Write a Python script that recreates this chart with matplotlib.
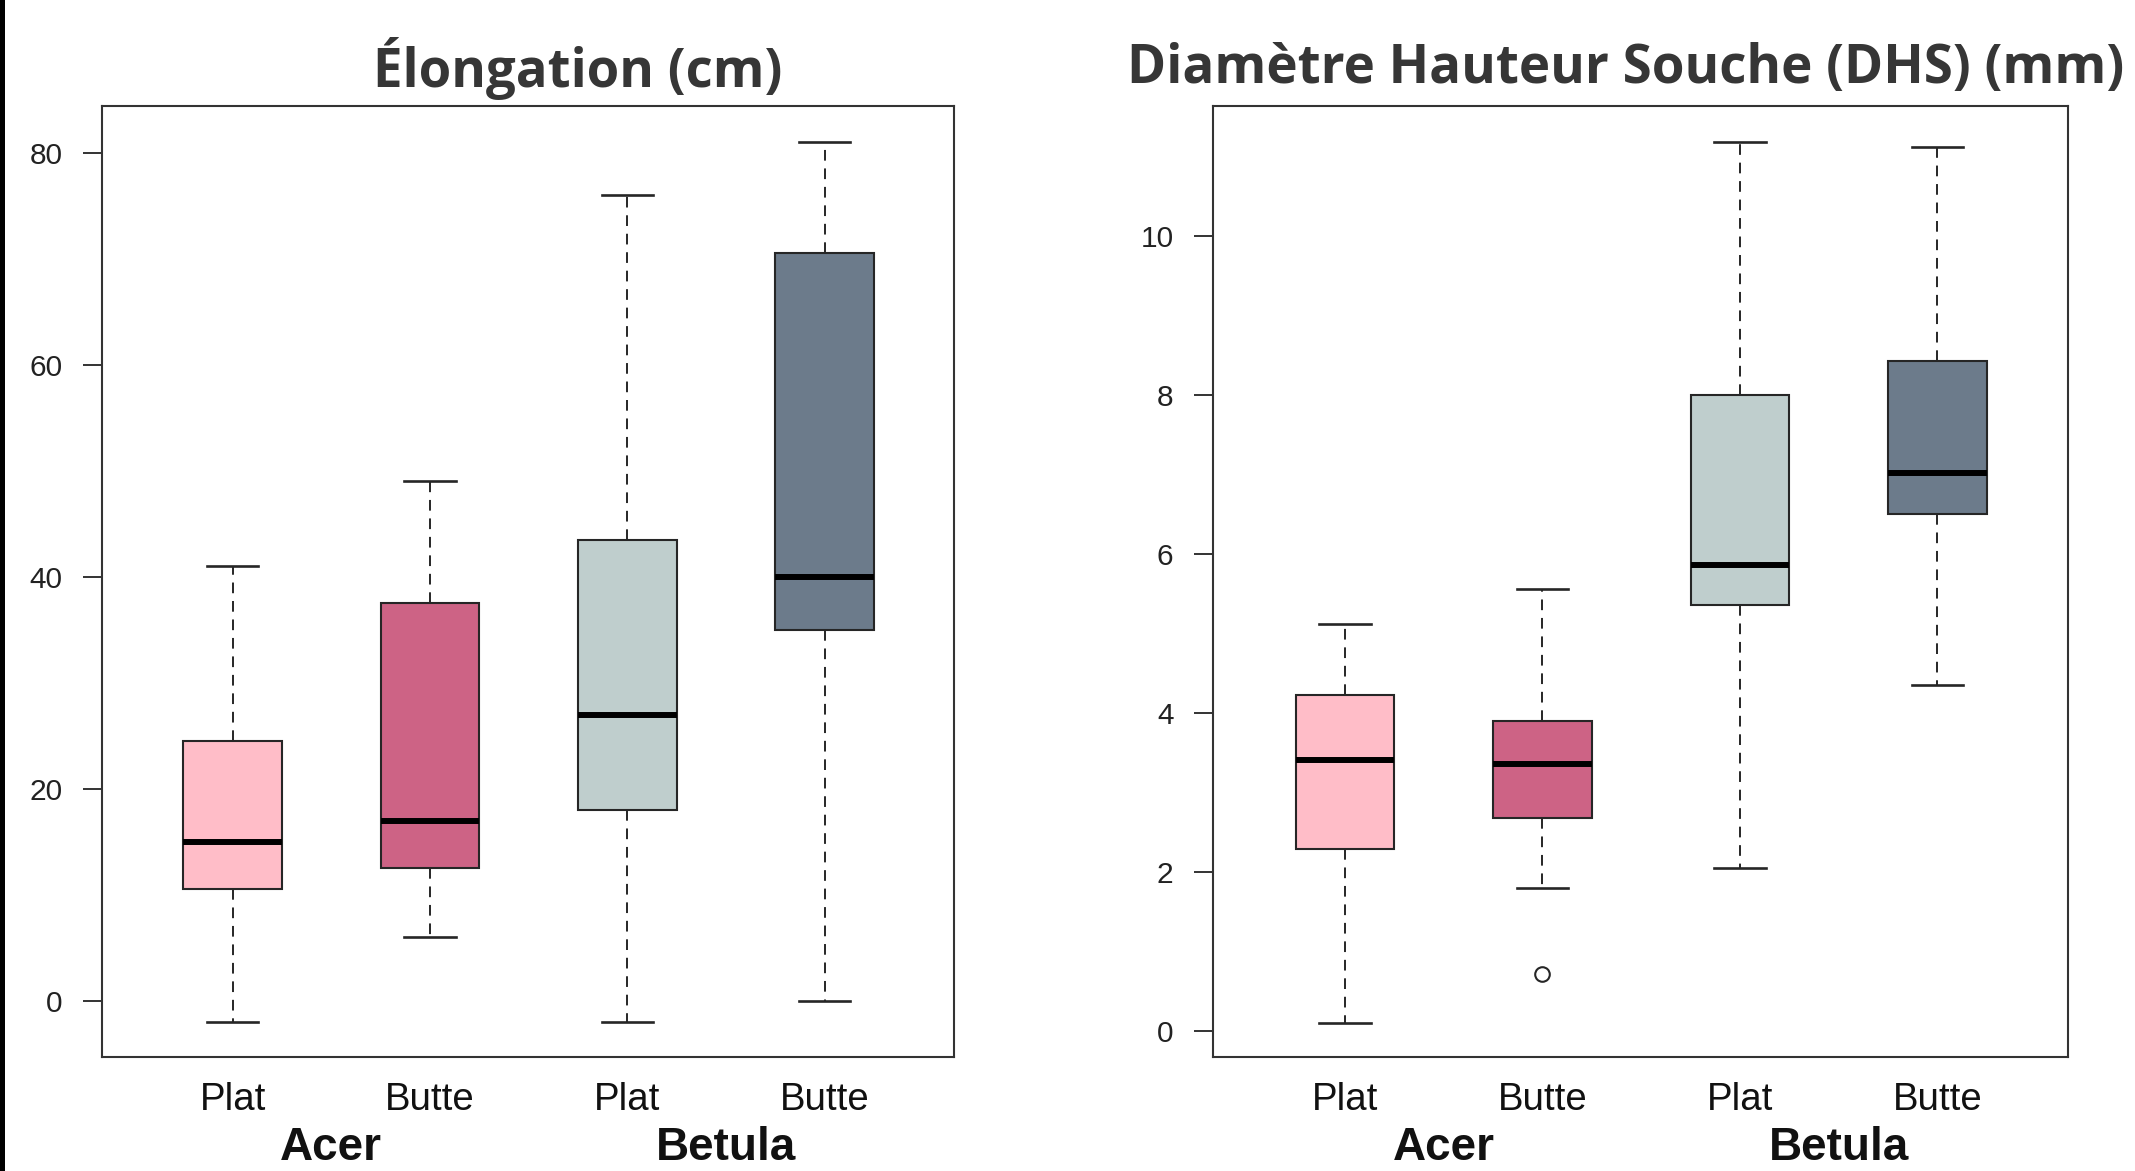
import matplotlib
matplotlib.use("Agg")
import matplotlib.pyplot as plt
import matplotlib.transforms as mtransforms
from matplotlib.patches import Rectangle

# ---------------- data ----------------
groups = ["Acer", "Betula"]
tick_labels = ["Plat", "Butte", "Plat", "Butte"]
box_colors = ["#FFBDC8", "#CD6385", "#BFCECD", "#6C7B8B"]

# Élongation (cm)
elong_low = [-2.0, 6.0, -2.0, 0.0]
elong_q1 = [10.5, 12.5, 18.0, 35.0]
elong_med = [15.0, 17.0, 27.0, 40.0]
elong_q3 = [24.5, 37.5, 43.5, 70.5]
elong_high = [41.0, 49.0, 76.0, 81.0]
elong_out = [[], [], [], []]
elong_yticks = [0, 20, 40, 60, 80]

# Diamètre Hauteur Souche (mm)
dhs_low = [0.1, 1.8, 2.05, 4.35]
dhs_q1 = [2.28, 2.67, 5.36, 6.5]
dhs_med = [3.4, 3.35, 5.86, 7.02]
dhs_q3 = [4.22, 3.9, 8.0, 8.42]
dhs_high = [5.12, 5.55, 11.18, 11.12]
dhs_out = [[], [0.72], [], []]
dhs_yticks = [0, 2, 4, 6, 8, 10]

titles = ["Élongation (cm)", "Diamètre Hauteur Souche (DHS) (mm)"]

# ---------------- figure ----------------
W, H = 2135, 1171
fig = plt.figure(figsize=(W / 100, H / 100), dpi=100)
fig.patch.set_facecolor("white")

def px_x(x):
    return x / W

def px_y(y):
    return 1 - y / H

FRAME = "#333333"
TXT = "#222222"
EDGE = "#262626"

panels = [
    dict(lo=elong_low, q1=elong_q1, med=elong_med, q3=elong_q3, hi=elong_high,
         out=elong_out, yticks=elong_yticks, ylim=(-5.3, 84.4),
         xlim=(0.338, 4.655), box=(102, 106, 954, 1057),
         title=titles[0], title_x=(373, 782), title_base=87),
    dict(lo=dhs_low, q1=dhs_q1, med=dhs_med, q3=dhs_q3, hi=dhs_high,
         out=dhs_out, yticks=dhs_yticks, ylim=(-0.33, 11.63),
         xlim=(0.331, 4.662), box=(1213, 106, 2068, 1057),
         title=titles[1], title_x=(1127, 2124), title_base=83),
]

renderer = fig.canvas.get_renderer()

for p in panels:
    x0, y0, x1, y1 = p["box"]
    ax = fig.add_axes([px_x(x0), px_y(y1), (x1 - x0) / W, (y1 - y0) / H])
    stats = []
    for i in range(4):
        stats.append(dict(whislo=p["lo"][i], q1=p["q1"][i], med=p["med"][i],
                          q3=p["q3"][i], whishi=p["hi"][i], fliers=p["out"][i]))
    positions = [1, 2, 3, 4]
    bp = ax.bxp(stats, positions=positions, widths=0.5, capwidths=0.26,
                patch_artist=True, showfliers=True,
                boxprops=dict(edgecolor=EDGE, linewidth=1.5),
                whiskerprops=dict(color=EDGE, linewidth=1.4, linestyle=(0, (5.5, 4.0))),
                capprops=dict(color=EDGE, linewidth=1.9),
                medianprops=dict(color="black", linewidth=4.3, solid_capstyle="butt"),
                flierprops=dict(marker="o", markerfacecolor="none", markeredgecolor=EDGE,
                                markersize=10.5, markeredgewidth=1.5))
    for patch, c in zip(bp["boxes"], box_colors):
        patch.set_facecolor(c)
    ax.set_xlim(*p["xlim"])
    ax.set_ylim(*p["ylim"])
    ax.set_xticks([])
    ax.set_yticks(p["yticks"])
    ax.set_yticklabels([str(t) for t in p["yticks"]], family="Liberation Sans",
                       fontsize=21.5, color=TXT)
    ax.tick_params(axis="y", length=13.5, width=1.4, color=FRAME, pad=15)
    for s in ax.spines.values():
        s.set_color(FRAME)
        s.set_linewidth(1.5)

    trans = mtransforms.blended_transform_factory(ax.transData, fig.transFigure)
    for pos, lab in zip(positions, tick_labels):
        ax.text(pos, px_y(1110), lab, transform=trans, ha="center", va="baseline",
                family="Liberation Sans", fontsize=27.6, color="#111111", clip_on=False)
    for gi, g in enumerate(groups):
        ax.text(1.5 + 2 * gi, px_y(1160), g, transform=trans, ha="center", va="baseline",
                family="Liberation Sans", fontweight="bold", fontsize=33,
                color="#111111", clip_on=False)

    # title fitted to its measured width
    tx0, tx1 = p["title_x"]
    t = fig.text(px_x((tx0 + tx1) / 2), px_y(p["title_base"]), p["title"],
                 ha="center", va="baseline", family="Open Sans", fontweight="bold",
                 fontsize=30, color="#363636")
    wpx = t.get_window_extent(renderer).width
    t.set_fontsize(30 * (tx1 - tx0) / wpx)

# dark left border of the picture
fig.patches.append(Rectangle((0, 0), px_x(5), 1, transform=fig.transFigure,
                             facecolor="black", edgecolor="none", zorder=10))

fig.savefig("out.png", dpi=100)
